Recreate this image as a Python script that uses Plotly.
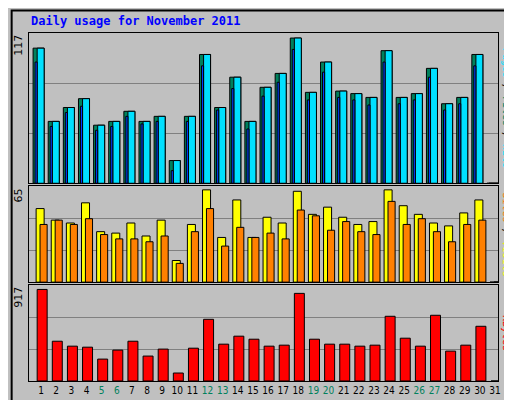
import plotly.graph_objects as go
from plotly.subplots import make_subplots

days = list(range(1, 32))
weekend = [5, 6, 12, 13, 19, 20, 26, 27]
hits = [107,49,60,67,46,49,57,49,53,18,53,102,60,84,49,76,87,115,72,96,73,71,68,105,68,71,91,63,68,102,0]
files = [107,49,60,67,46,49,57,49,53,18,53,102,60,84,49,76,87,115,72,96,73,71,68,105,68,71,91,63,68,102,0]
pages = [96,45,56,61,42,45,53,47,49,10,49,93,58,75,43,69,80,106,66,88,68,66,62,96,63,66,84,58,63,93,0]
visits = [51,43,41,55,35,34,41,32,43,15,40,64,31,57,31,45,41,63,47,52,45,40,42,64,53,47,41,39,48,57,0]
sites = [40,43,40,44,33,30,30,28,32,13,35,51,25,38,31,34,30,50,46,36,42,35,33,56,40,44,35,28,40,43,0]
kbytes = [907,394,345,335,217,306,394,247,316,79,325,611,365,444,414,345,355,868,414,365,365,345,355,641,424,345,651,296,355,542,0]

fig = make_subplots(rows=3, cols=1, shared_xaxes=True, vertical_spacing=0.0085,
                    row_heights=[152, 97, 97])

def bar(y, color, off, w, row):
    fig.add_trace(go.Bar(x=days, y=y, offset=off, width=w, marker_color=color,
                         marker_line_color="black", marker_line_width=1, showlegend=False,
                         hoverinfo="skip"), row=row, col=1)

bar(files, "#00805C", -0.53, 0.73, 1)
bar(hits, "#00E0FF", -0.26, 0.46, 1)
bar(pages, "#0040FF", -0.40, 0.14, 1)
bar(visits, "#FFFF00", -0.33, 0.53, 2)
bar(sites, "#FF8000", -0.07, 0.47, 2)
bar(kbytes, "#FF0000", -0.26, 0.66, 3)

fig.update_layout(barmode="overlay", width=512, height=400,
                  margin=dict(l=21, r=22, t=25, b=23),
                  paper_bgcolor="#C0C0C0", plot_bgcolor="#C0C0C0",
                  font=dict(family="DejaVu Sans Mono", size=11, color="black"))

ticktext = [f"<span style='color:#00805C'>{d}</span>" if d in weekend else str(d) for d in days]
for r in (1, 2, 3):
    fig.update_xaxes(range=[0.2, 31.2], showgrid=False, zeroline=False,
                     showline=True, mirror=True, linecolor="black", linewidth=1,
                     tickvals=days, ticktext=ticktext, ticks="", tickangle=0, row=r, col=1,
                     showticklabels=(r == 3), tickfont=dict(size=10, family="DejaVu Sans Condensed"))
ymax = {1: 119, 2: 66.5, 3: 950}
for r in (1, 2, 3):
    m = ymax[r]
    fig.update_yaxes(range=[0, m], tickvals=[m / 3, 2 * m / 3], showticklabels=False,
                     gridcolor="#808080", gridwidth=1, zeroline=False, showline=True,
                     mirror=True, linecolor="black", linewidth=1, row=r, col=1)

fig.add_annotation(x=0.0, y=1.034, xref="paper", yref="paper", xanchor="left", yanchor="middle",
                   text="<b>Daily usage for November 2011</b>", showarrow=False,
                   font=dict(family="DejaVu Sans Mono", size=12, color="#0000FF"))
for txt, yp in (("117", 1.0), ("65", 0.5597), ("917", 0.2756)):
    fig.add_annotation(x=-0.005, y=yp, xref="paper", yref="paper", xanchor="right", yanchor="top",
                       text=txt, textangle=-90, showarrow=False,
                       font=dict(family="DejaVu Sans", size=11))
labels = [
    ("<span style='color:#00E0FF'>Pages</span> / <span style='color:#00805C'>Files</span> / <span style='color:#00E0FF'>Hits</span>", 0.784),
    ("<span style='color:#FF8000'>Sites</span> / <span style='color:#FFFF00'>Visits</span>", 0.42),
    ("<span style='color:#FF0000'>KBytes</span>", 0.137),
]
for txt, yp in labels:
    fig.add_annotation(x=1.002, y=yp, xref="paper", yref="paper", xanchor="left", yanchor="middle",
                       text=txt, textangle=90, showarrow=False,
                       font=dict(family="DejaVu Sans Mono", size=10))
fig.add_shape(type="rect", xref="paper", yref="paper", x0=-0.037, x1=1.039, y0=-0.058, y1=1.065,
              line=dict(color="black", width=2))

fig.write_html("out.html")
